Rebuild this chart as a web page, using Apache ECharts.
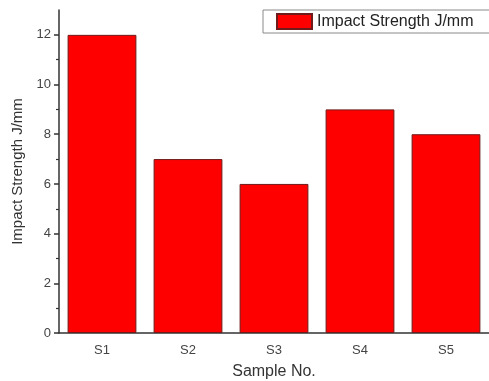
<!DOCTYPE html>
<html>
<head>
<meta charset="utf-8">
<script src="https://cdn.jsdelivr.net/npm/echarts@6/dist/echarts.min.js"></script>
<style>
  html, body { margin: 0; padding: 0; background: #fff; }
  #chart { width: 489px; height: 381px; }
</style>
</head>
<body>
<div id="chart"></div>
<script>
// Sample categories and measured impact strength (J/mm)
const samples = ['S1', 'S2', 'S3', 'S4', 'S5'];
const impactStrength = [12, 7, 6, 9, 8];
const majorTicks = [0, 2, 4, 6, 8, 10, 12];
const minorTicks = [1, 3, 5, 7, 9, 11];

const font = 'Liberation Sans, Arial, sans-serif';
const chart = echarts.init(document.getElementById('chart'));

chart.setOption({
  animation: false,
  backgroundColor: '#ffffff',
  grid: { left: 59, top: 10, right: 0, bottom: 48, containLabel: false, outerBoundsMode: 'none' },
  legend: {
    left: 263,
    top: 10,
    padding: [3, 200, 3, 13],
    borderColor: '#8a8a8a',
    borderWidth: 1,
    itemWidth: 35,
    itemHeight: 15,
    itemGap: 6,
    icon: 'rect',
    textStyle: { fontFamily: font, fontSize: 16, color: '#222' },
    data: ['Impact Strength J/mm']
  },
  xAxis: [
    {
      type: 'category',
      data: samples,
      name: 'Sample No.',
      nameLocation: 'middle',
      nameGap: 31,
      nameTextStyle: { fontFamily: font, fontSize: 16, color: '#333' },
      axisLine: { lineStyle: { color: '#333', width: 1.5 } },
      axisTick: { alignWithLabel: true, length: 5, lineStyle: { color: '#333', width: 1.5 } },
      axisLabel: { fontFamily: font, fontSize: 13, color: '#444', margin: 11 }
    },
    {
      type: 'category',
      data: samples,
      position: 'bottom',
      axisLine: { show: false },
      axisTick: { length: 3, lineStyle: { color: '#333', width: 1.2 } },
      axisLabel: { show: false }
    }
  ],
  yAxis: [
    {
      type: 'value',
      min: 0,
      max: 13,
      name: 'Impact Strength J/mm',
      nameLocation: 'middle',
      nameGap: 32,
      nameTextStyle: { fontFamily: font, fontSize: 15, color: '#333' },
      axisLine: { show: true, lineStyle: { color: '#333', width: 1.5 } },
      axisTick: { show: true, customValues: majorTicks, length: 5, lineStyle: { color: '#333', width: 1.5 } },
      axisLabel: { customValues: majorTicks, fontFamily: font, fontSize: 13, color: '#444', margin: 8 },
      splitLine: { show: false }
    },
    {
      type: 'value',
      min: 0,
      max: 13,
      position: 'left',
      offset: 0,
      axisLine: { show: false },
      axisTick: { show: true, customValues: minorTicks, length: 3, lineStyle: { color: '#333', width: 1.2 } },
      axisLabel: { show: false },
      splitLine: { show: false }
    }
  ],
  series: [
    {
      name: 'Impact Strength J/mm',
      type: 'bar',
      xAxisIndex: 0,
      yAxisIndex: 0,
      data: impactStrength,
      barCategoryGap: '20%',
      itemStyle: { color: '#ff0000', borderColor: '#6e1b1b', borderWidth: 1 }
    }
  ]
});
</script>
</body>
</html>
